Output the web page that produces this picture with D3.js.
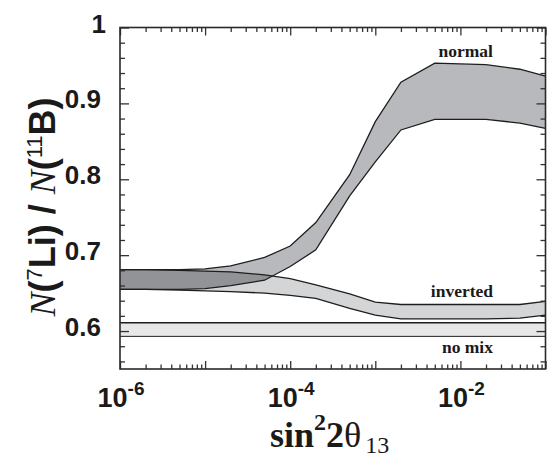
<!DOCTYPE html>
<html><head><meta charset="utf-8">
<script src="https://cdn.jsdelivr.net/npm/d3@7"></script>
<style>body{margin:0;background:#fff}</style></head>
<body>
<svg id="c" width="549" height="458"></svg>
<script>
// ---- data ----
const sin2theta = [1e-6,2e-6,5e-6,1e-5,2e-5,5e-5,1e-4,2e-4,5e-4,1e-3,2e-3,5e-3,1e-2,2e-2,5e-2,1e-1];
const normalUpper   = [0.681,0.681,0.681,0.682,0.686,0.697,0.712,0.743,0.806,0.876,0.928,0.953,0.952,0.951,0.945,0.936];
const normalLower   = [0.655,0.655,0.655,0.656,0.660,0.667,0.685,0.707,0.778,0.823,0.865,0.879,0.879,0.879,0.874,0.867];
const invertedUpper = [0.681,0.681,0.680,0.679,0.678,0.674,0.669,0.661,0.649,0.638,0.635,0.635,0.635,0.635,0.635,0.639];
const invertedLower = [0.655,0.655,0.654,0.653,0.652,0.650,0.647,0.643,0.630,0.621,0.616,0.616,0.616,0.616,0.617,0.621];
const noMixX = [1e-6,1e-1];
const noMixUpper = [0.611,0.611];
const noMixLower = [0.593,0.593];
const yMajorTicks = [0.6,0.7,0.8,0.9,1.0];
const yTickLabels = ["0.6","0.7","0.8","0.9","1"];
const xLabelTicks = [1e-6,1e-4,1e-2];
const xLabelExps = ["-6","-4","-2"];
const bandLabels = ["normal","inverted","no mix"];
const bandLabelValues = [0.9615,0.6445,0.5715];

// ---- layout ----
const L=120, R=545.5, T=27.5, B=369;
const svg = d3.select("#c");
const x = d3.scaleLog().domain([1e-6,1e-1]).range([L,R]);
const y = d3.scaleLinear().domain([0.55,1.0]).range([B,T]);

const toRows = (xs, lo, hi) => xs.map((v,i)=>({x:v, lo:lo[i], hi:hi[i]}));
const normal = toRows(sin2theta, normalLower, normalUpper);
const inverted = toRows(sin2theta, invertedLower, invertedUpper);
const nomix = toRows(noMixX, noMixLower, noMixUpper);

const area = d3.area().x(d=>x(d.x)).y0(d=>y(d.lo)).y1(d=>y(d.hi));
const lineHi = d3.line().x(d=>x(d.x)).y(d=>y(d.hi));
const lineLo = d3.line().x(d=>x(d.x)).y(d=>y(d.lo));

svg.append("clipPath").attr("id","invClip").append("path").attr("d", area(inverted));
svg.append("clipPath").attr("id","frameClip").append("rect").attr("x",L).attr("y",T).attr("width",R-L).attr("height",B-T);

const g = svg.append("g").attr("clip-path","url(#frameClip)");
g.append("path").attr("d", area(nomix)).attr("fill","#e7e7e8");
g.append("path").attr("d", area(inverted)).attr("fill","#d4d5d7");
g.append("path").attr("d", area(normal)).attr("fill","#b8b9bc");
g.append("path").attr("d", area(normal)).attr("fill","#929396").attr("clip-path","url(#invClip)");

const stroke = "#1e1e1e";
[nomix].forEach(d=>{
  g.append("path").attr("d", lineHi(d)).attr("fill","none").attr("stroke",stroke).attr("stroke-width",1.6);
  g.append("path").attr("d", lineLo(d)).attr("fill","none").attr("stroke",stroke).attr("stroke-width",1.0);
});
[inverted, normal].forEach(d=>{
  g.append("path").attr("d", lineHi(d)).attr("fill","none").attr("stroke",stroke).attr("stroke-width",1.3);
  g.append("path").attr("d", lineLo(d)).attr("fill","none").attr("stroke",stroke).attr("stroke-width",1.3);
});

// ---- axes (inward ticks on all sides) ----
const xMajor = d3.range(-6,0).map(e=>Math.pow(10,e));
const xMinor = [];
for (let e=-6;e<-1;e++) for (let k=2;k<=9;k++) xMinor.push(k*Math.pow(10,e));
const yMinor = d3.range(0.56,1.0,0.02).filter(v=>!yMajorTicks.some(m=>Math.abs(m-v)<1e-6));

function addAxis(axisGen, tr){
  const a = svg.append("g").attr("transform",tr).call(axisGen);
  a.select(".domain").remove();
  a.selectAll("line").attr("stroke","#333").attr("stroke-width",1.3);
  a.selectAll("text").remove();
}
addAxis(d3.axisBottom(x).tickValues(xMajor).tickSize(-8), `translate(0,${B})`);
addAxis(d3.axisBottom(x).tickValues(xMinor).tickSize(-4.5), `translate(0,${B})`);
addAxis(d3.axisTop(x).tickValues(xMajor).tickSize(-8), `translate(0,${T})`);
addAxis(d3.axisTop(x).tickValues(xMinor).tickSize(-4.5), `translate(0,${T})`);
addAxis(d3.axisLeft(y).tickValues(yMajorTicks).tickSize(-9), `translate(${L},0)`);
addAxis(d3.axisLeft(y).tickValues(yMinor).tickSize(-5), `translate(${L},0)`);
addAxis(d3.axisRight(y).tickValues(yMajorTicks).tickSize(-9), `translate(${R},0)`);
addAxis(d3.axisRight(y).tickValues(yMinor).tickSize(-5), `translate(${R},0)`);

svg.append("rect").attr("x",L).attr("y",T).attr("width",R-L).attr("height",B-T)
  .attr("fill","none").attr("stroke","#2a2a2a").attr("stroke-width",1.6);

// ---- tick labels ----
const sans = "'Liberation Sans', Arial, Helvetica, sans-serif";
const serif = "'Liberation Serif', 'Times New Roman', serif";
yMajorTicks.forEach((v,i)=>{
  svg.append("text").attr("x",v===1 ? 106 : 101).attr("y",y(v)+5)
    .attr("text-anchor","end").attr("font-family",sans).attr("font-weight","bold")
    .attr("font-size",26).attr("fill","#1a1a1a").text(yTickLabels[i]);
});
xLabelTicks.forEach((v,i)=>{
  const t = svg.append("text").attr("x",x(v)+1).attr("y",407)
    .attr("text-anchor","middle").attr("font-family",sans).attr("font-weight","bold")
    .attr("font-size",27).attr("fill","#1a1a1a");
  t.append("tspan").text("10");
  t.append("tspan").attr("dy",-12).attr("font-size",19).text(xLabelExps[i]);
});

// ---- band labels ----
bandLabels.forEach((s,i)=>{
  svg.append("text").attr("x",493).attr("y",y(bandLabelValues[i]))
    .attr("text-anchor","end").attr("font-family",serif).attr("font-weight","bold")
    .attr("font-size",17.5).attr("fill","#1a1a1a").text(s);
});

// ---- x axis title ----
const xt = svg.append("text").attr("x",270).attr("y",447).attr("font-family",serif)
  .attr("font-weight","bold").attr("font-size",36).attr("fill","#1a1a1a");
xt.append("tspan").text("sin");
xt.append("tspan").attr("dy",-17).attr("font-size",24).text("2");
xt.append("tspan").attr("dy",17).text("2");
xt.append("tspan").attr("font-weight","normal").text("θ");
xt.append("tspan").attr("dy",6).attr("dx",4).attr("font-size",24).attr("font-weight","normal").text("13");

// ---- y axis title ----
const yt = svg.append("text").attr("transform","translate(55,207) rotate(-90)")
  .attr("text-anchor","middle").attr("font-family",sans).attr("font-weight","bold")
  .attr("font-size",36).attr("fill","#1a1a1a");
yt.append("tspan").attr("font-family",serif).attr("font-style","italic").attr("font-weight","normal").text("N");
yt.append("tspan").text("(");
yt.append("tspan").attr("dy",-13).attr("font-size",22).attr("font-weight","normal").text("7");
yt.append("tspan").attr("dy",13).text("Li) / ");
yt.append("tspan").attr("font-family",serif).attr("font-style","italic").attr("font-weight","normal").text("N");
yt.append("tspan").text("(");
yt.append("tspan").attr("dy",-13).attr("font-size",22).attr("font-weight","normal").text("11");
yt.append("tspan").attr("dy",13).text("B)");
</script>
</body></html>
